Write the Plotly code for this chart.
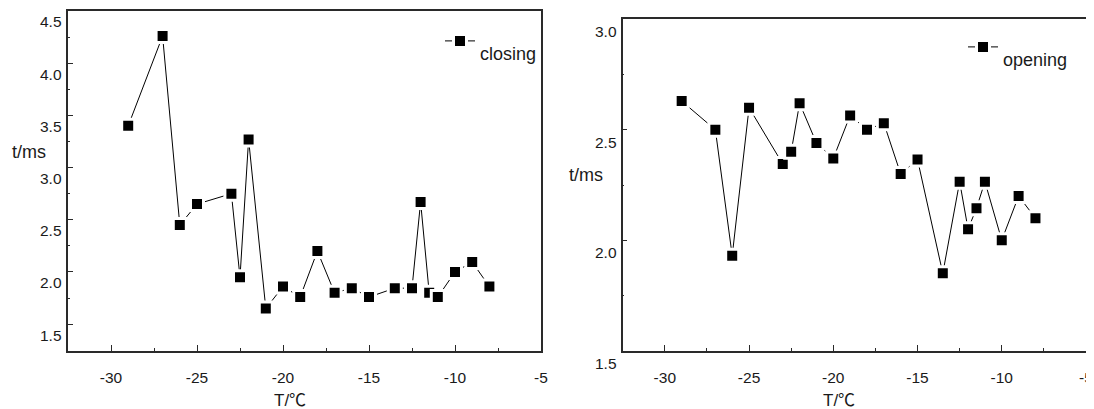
import plotly.graph_objects as go

# ---- data ----
close_T = [-29, -27, -26, -25, -23, -22.5, -22, -21, -20, -19, -18, -17, -16, -15,
           -13.5, -12.5, -12, -11.5, -11, -10, -9, -8]
close_t = [3.40, 4.26, 2.45, 2.65, 2.75, 1.95, 3.27, 1.65, 1.86, 1.76, 2.20, 1.80,
           1.845, 1.76, 1.845, 1.845, 2.67, 1.80, 1.76, 2.00, 2.095, 1.86]

open_T = [-29, -27, -26, -25, -23, -22.5, -22, -21, -20, -19, -18, -17, -16, -15,
          -13.5, -12.5, -12, -11.5, -11, -10, -9, -8]
open_t = [2.63, 2.50, 1.93, 2.60, 2.345, 2.40, 2.62, 2.44, 2.37, 2.565, 2.50, 2.53,
          2.30, 2.365, 1.85, 2.265, 2.05, 2.145, 2.265, 2.00, 2.20, 2.10]

left_yticks = [1.5, 2.0, 2.5, 3.0, 3.5, 4.0, 4.5]
right_yticks = [1.5, 2.0, 2.5, 3.0]
xticks = [-30, -25, -20, -15, -10, -5]

W, H = 1094, 409
OFF = 8  # page body margin


def px(x):
    return (x - OFF) / W


def py(y):
    return 1 - (y - OFF) / H


FONT = "Liberation Sans, Arial, Noto Sans CJK SC, sans-serif"
TXT = "#1a1a1a"
FRAME = "#2a2a2a"

fig = go.Figure()

marker = dict(symbol="square", size=13, color="black",
              line=dict(color="white", width=3))

fig.add_trace(go.Scatter(x=close_T, y=close_t, mode="lines+markers",
                         name=" <br>closing", line=dict(color="black", width=1),
                         marker=marker, xaxis="x", yaxis="y", legend="legend"))
fig.add_trace(go.Scatter(x=open_T, y=open_t, mode="lines+markers",
                         name=" <br>opening", line=dict(color="black", width=1),
                         marker=marker, xaxis="x2", yaxis="y2", legend="legend2"))

xcommon = dict(range=[-32.5, -5], tickvals=xticks, ticktext=[str(v) for v in xticks],
               ticks="inside", ticklen=6, tickwidth=1.2, tickcolor=FRAME,
               minor=dict(dtick=2.5, tick0=0, ticks="inside", ticklen=3,
                          tickwidth=1.2, tickcolor=FRAME),
               showline=True, linecolor=FRAME, linewidth=1.5, mirror=True,
               showgrid=False, zeroline=False, automargin=False,
               tickfont=dict(family=FONT, size=15.5, color=TXT),
               ticklabelstandoff=12)
ycommon = dict(ticks="inside", ticklen=5, tickwidth=1.2, tickcolor=FRAME,
               dtick=0.5, tick0=0,
               minor=dict(dtick=0.25, tick0=0, ticks="inside", ticklen=2,
                          tickwidth=1.2, tickcolor=FRAME),
               showline=True, linecolor=FRAME, linewidth=1.5, mirror=True,
               showgrid=False, zeroline=False, showticklabels=False,
               automargin=False)

fig.update_layout(
    width=W, height=H,
    margin=dict(l=0, r=0, t=0, b=0, autoexpand=False),
    paper_bgcolor="white", plot_bgcolor="white",
    showlegend=True,
    xaxis=dict(domain=[px(68), px(541)], anchor="y", **xcommon),
    yaxis=dict(domain=[py(351), py(11)], anchor="x",
               range=[1.243, 4.5], **ycommon),
    xaxis2=dict(domain=[px(622.7), px(1086)], anchor="y2", **xcommon),
    yaxis2=dict(domain=[py(350.7), py(19.3)], anchor="x2",
                range=[1.5, 3.0], **ycommon),
    legend=dict(x=px(440), y=py(11), xanchor="left", yanchor="top",
                bgcolor="rgba(0,0,0,0)", font=dict(family=FONT, size=18, color=TXT),
                itemwidth=30, valign="middle"),
    legend2=dict(x=px(963), y=py(17), xanchor="left", yanchor="top",
                 bgcolor="rgba(0,0,0,0)", font=dict(family=FONT, size=18, color=TXT),
                 itemwidth=30, valign="middle"),
)

CELSIUS = "T/<span style='font-family:Noto Sans CJK SC'>℃</span>"

annotations = []
# y tick labels (drawn slightly below their ticks, as in the reference)
for v in left_yticks:
    annotations.append(dict(x=0, xref="x domain", y=v, yref="y", text=f"{v:.1f}",
                            showarrow=False, xanchor="right", yanchor="middle",
                            xshift=-4, yshift=-11,
                            font=dict(family=FONT, size=15.5, color=TXT)))
for v in right_yticks:
    annotations.append(dict(x=0, xref="x2 domain", y=v, yref="y2", text=f"{v:.1f}",
                            showarrow=False, xanchor="right", yanchor="middle",
                            xshift=-4, yshift=-12.5,
                            font=dict(family=FONT, size=15.5, color=TXT)))
# axis titles
annotations += [
    dict(x=px(10), xref="paper", y=py(152), yref="paper", text="t/ms",
         showarrow=False, xanchor="left", yanchor="middle",
         font=dict(family=FONT, size=18, color=TXT)),
    dict(x=px(567), xref="paper", y=py(175), yref="paper", text="t/ms",
         showarrow=False, xanchor="left", yanchor="middle",
         font=dict(family=FONT, size=18, color=TXT)),
    dict(x=px(290), xref="paper", y=py(398), yref="paper", text=CELSIUS,
         showarrow=False, xanchor="center", yanchor="middle",
         font=dict(family=FONT, size=17, color=TXT)),
    dict(x=px(839), xref="paper", y=py(398), yref="paper", text=CELSIUS,
         showarrow=False, xanchor="center", yanchor="middle",
         font=dict(family=FONT, size=17, color=TXT)),
]
fig.update_layout(annotations=annotations)

fig.write_html("out.html")
